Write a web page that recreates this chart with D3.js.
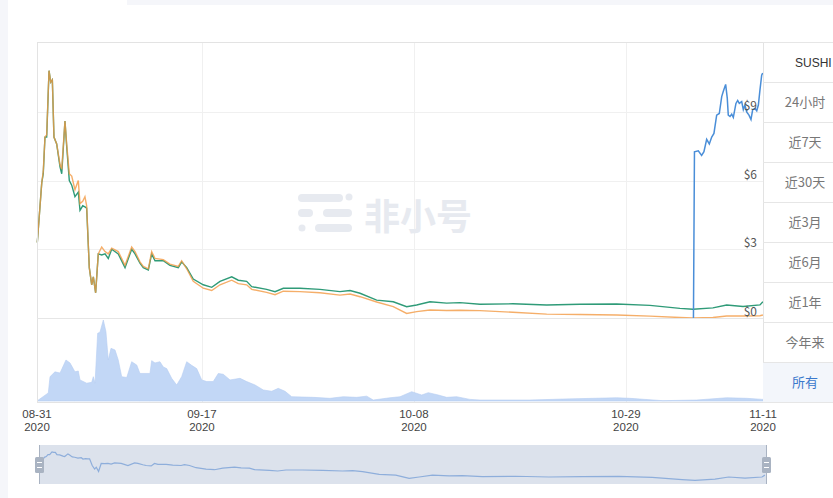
<!DOCTYPE html>
<html><head><meta charset="utf-8">
<script src="https://cdn.jsdelivr.net/npm/d3@7/dist/d3.min.js"></script>
<style>
html,body{margin:0;padding:0;background:#fff;}
svg{display:block;}
text{font-family:"Noto Sans CJK SC","Liberation Sans",sans-serif;}
text.lat{font-family:"Liberation Sans",Arial,sans-serif;}
</style></head>
<body><svg id="c" width="833" height="498"></svg>
<script>
// ---- data (day offsets are days after 2020-08-31 00:00) ----
const lineDays = [0.69,1.13,1.28,1.45,1.62,1.85,2.02,2.18,2.34,2.61,2.94,3.11,3.43,3.60,3.86,4.10,4.42,4.75,4.92,5.19,5.41,5.58,5.84,6.08,6.24,6.47,6.73,7.07,7.40,7.72,8.06,8.71,9.38,10.04,10.37,10.86,11.19,11.69,12.02,12.35,13.17,13.83,14.66,14.99,15.49,16.14,17.13,17.97,18.79,19.95,20.60,21.43,21.93,23.41,24.24,25.06,26.71,28.69,30.67,31.67,32.66,34.31,35.95,37.28,38.27,39.59,41.24,42.56,44.54,47.8,51.15,54.45,58.08,61.38,64.35,65.64,67.62,68.98,70.6,72.28,72.57];
const greenValues = [3.3,5.9,6.3,7.9,7.9,10.8,10.3,10.4,7.9,7.6,6.6,6.3,8.6,7.5,6.0,5.8,5.3,5.5,4.7,4.9,4.85,4.8,2.2,1.45,1.8,1.1,2.8,2.75,2.8,2.6,3.0,2.8,2.2,3.0,2.8,2.4,2.2,2.1,2.8,2.5,2.5,2.3,2.2,2.45,2.2,1.7,1.45,1.34,1.6,1.8,1.65,1.6,1.37,1.25,1.15,1.3,1.3,1.25,1.15,1.2,1.08,0.78,0.71,0.49,0.57,0.71,0.65,0.67,0.6,0.62,0.57,0.6,0.61,0.55,0.42,0.38,0.44,0.57,0.5,0.57,0.71];
const orangeValues = [3.3,5.9,6.4,7.9,8.0,10.8,10.3,10.4,7.9,7.6,6.7,6.5,8.6,7.6,6.3,6.2,5.6,6.0,5.0,5.1,5.3,4.9,2.2,1.45,1.8,1.1,2.8,3.1,2.9,2.8,3.05,2.9,2.3,3.1,2.9,2.45,2.25,2.15,2.9,2.6,2.55,2.35,2.25,2.5,2.15,1.6,1.3,1.2,1.45,1.65,1.5,1.45,1.25,1.12,1.02,1.17,1.15,1.1,1.0,1.05,0.93,0.7,0.5,0.2,0.28,0.35,0.33,0.34,0.32,0.25,0.17,0.15,0.13,0.08,0.02,0.0,0.02,0.09,0.09,0.1,0.13];
const blueDays = [65.69,65.79,66.17,66.5,66.73,67.0,67.26,67.5,67.72,67.99,68.25,68.49,68.65,68.88,69.04,69.14,69.31,69.48,69.64,69.9,70.07,70.23,70.47,70.63,70.79,70.96,71.19,71.39,71.56,71.79,71.96,72.12,72.28,72.45,72.55];
const blueValues = [0,7.26,7.3,7.1,7.26,7.8,7.6,7.9,8.06,8.86,8.93,9.67,9.9,10.2,9.6,8.86,8.8,8.9,8.76,9.37,9.5,9.37,9.45,9.1,9.3,9.0,8.86,8.67,9.1,9.15,9.05,9.3,9.96,10.6,10.7];
const volumeDays = [0.66,1.78,1.95,2.44,2.94,3.53,3.93,4.42,4.75,4.92,5.58,6.08,6.24,6.41,6.67,6.9,7.23,7.49,7.72,7.99,8.39,8.71,9.05,9.55,10.04,10.54,10.86,11.36,11.85,12.02,12.35,12.84,13.17,13.51,14.0,14.5,14.99,15.49,15.98,16.48,16.98,17.47,18.12,18.62,19.11,19.78,20.77,21.43,22.26,23.08,23.91,24.56,25.23,25.89,28.03,29.68,31.0,32.33,33.32,33.97,35.63,36.62,37.78,38.77,39.42,40.41,41.24,42.23,43.55,44.54,49.5,52.76,58.08,59.4,62.67,66.01,68.98,70.96,72.58];
const volumeValues = [0,10,30,36,34.5,50.6,47,36,37,26,22,23,30,22,83.6,85,100,85.5,50.6,65,63,50.6,30,29,48.5,44.4,34,34,34,49.8,47,48.5,42,40,28,19.8,30,48.5,44,40,26,24,24,34,33,26,28,24,19.8,13.6,12,15.6,12,5.3,4.5,3.3,5.3,4.5,6,1.2,4,5.3,11.5,7.4,10.3,7.4,4.5,5.3,2,1.2,1.2,2.4,4,3.3,0.4,1.2,4,3.3,2];
const yTicks = [0,3,6,9];
const xTickDays = [17,38,59];
const xTickLabels = ["09-17","10-08","10-29"];
const edgeLabels = ["08-31","11-11"];
const yearLabel = "2020";
const rangeButtons = ["24小时","近7天","近30天","近3月","近6月","近1年","今年来","所有"];
const headerLabel = "SUSHI";
const domainDays = [0.66,72.58];

const base = Date.UTC(2020,7,31);
const toDate = d => new Date(base + d*86400000);

const svg = d3.select("#c");
// page background pieces
svg.append("rect").attr("x",0).attr("y",0).attr("width",8).attr("height",498).attr("fill","#f5f6fa");
svg.append("rect").attr("x",127).attr("y",0).attr("width",706).attr("height",5).attr("fill","#f5f6fa");

const L=37,R=763,T=42,MB=318,VB=401,B=402;
const x = d3.scaleUtc().domain(domainDays.map(toDate)).range([L,R]);
const y = d3.scaleLinear().domain([0,12]).range([MB,MB-12*22.9]);
const yv = d3.scaleLinear().domain([0,100]).range([VB,320]);

// grid
const g = svg.append("g");
xTickDays.forEach(d=>{
  g.append("line").attr("x1",Math.round(x(toDate(d)))+0.5).attr("x2",Math.round(x(toDate(d)))+0.5)
   .attr("y1",T).attr("y2",B).attr("stroke","#f0f0f0");
});
yTicks.filter(v=>v>0).forEach(v=>{
  g.append("line").attr("x1",L).attr("x2",R).attr("y1",Math.round(y(v))+0.5).attr("y2",Math.round(y(v))+0.5)
   .attr("stroke","#f0f0f0");
});

// watermark
const wm = svg.append("g").attr("fill","#e7eaf0");
[[298,194,45,8],[298,209,15,8],[323,209,29,8],[315,224,37,8]].forEach(r=>{
  wm.append("rect").attr("x",r[0]).attr("y",r[1]).attr("width",r[2]).attr("height",r[3]).attr("rx",4);
});
wm.append("circle").attr("cx",349).attr("cy",197).attr("r",3.5);
wm.append("circle").attr("cx",302).attr("cy",228).attr("r",3.5);
wm.append("text").attr("x",364).attr("y",230).attr("font-size",36).attr("font-weight","bold").text("非小号");

// volume
svg.append("path").datum(volumeDays.map((d,i)=>[toDate(d),volumeValues[i]]))
  .attr("fill","#c2d7f6").attr("stroke","#b5cdf2").attr("stroke-width",0.6)
  .attr("d",d3.area().x(d=>x(d[0])).y0(VB).y1(d=>yv(d[1])));

// lines
const line = d3.line().x(d=>x(d[0])).y(d=>y(d[1]));
svg.append("path").datum(lineDays.map((d,i)=>[toDate(d),greenValues[i]]))
  .attr("fill","none").attr("stroke","#2f9b78").attr("stroke-width",1.4).attr("d",line);
svg.append("path").datum(lineDays.map((d,i)=>[toDate(d),orangeValues[i]]))
  .attr("fill","none").attr("stroke","#f29a43").attr("stroke-width",1.4).attr("stroke-opacity",0.8).attr("d",line);
svg.append("path").datum(blueDays.map((d,i)=>[toDate(d),blueValues[i]]))
  .attr("fill","none").attr("stroke","#4a8ed8").attr("stroke-width",1.5).attr("d",line);

// frame
svg.append("rect").attr("x",L+0.5).attr("y",T+0.5).attr("width",R-L).attr("height",B-T)
  .attr("fill","none").attr("stroke","#e3e3e3");
svg.append("line").attr("x1",L).attr("x2",R).attr("y1",MB+0.5).attr("y2",MB+0.5).attr("stroke","#e6e6e6");

// y labels
yTicks.forEach(v=>{
  svg.append("text").attr("x",757).attr("y",y(v)-2).attr("text-anchor","end")
    .attr("font-size",12).attr("fill","#555").text("$"+v);
});

// x labels (two-line: date / year)
const xl = svg.append("g").attr("font-size",11.5).attr("fill","#444").attr("text-anchor","middle");
const putLabel=(px,lab)=>{
  xl.append("text").attr("class","lat").attr("x",px).attr("y",418).text(lab);
  xl.append("text").attr("class","lat").attr("x",px).attr("y",431).text(yearLabel);
};
putLabel(x(toDate(domainDays[0])),edgeLabels[0]);
xTickDays.forEach((d,i)=>putLabel(x(toDate(d)),xTickLabels[i]));
putLabel(x(toDate(domainDays[1])),edgeLabels[1]);

// right buttons panel
const bp = svg.append("g");
bp.append("rect").attr("x",763).attr("y",362).attr("width",70).attr("height",40).attr("fill","#f3f6fb");
for(let i=0;i<=9;i++){
  bp.append("line").attr("x1",763).attr("x2",833).attr("y1",42+i*40+0.5).attr("y2",42+i*40+0.5).attr("stroke","#e6e6e6");
}
bp.append("text").attr("class","lat").attr("x",795).attr("y",67).attr("font-size",12).attr("fill","#333").text(headerLabel);
rangeButtons.forEach((b,i)=>{
  bp.append("text").attr("x",805).attr("y",42+40*(i+1)+25).attr("text-anchor","middle")
    .attr("font-size",13).attr("fill",i===rangeButtons.length-1?"#3a78cc":"#777").text(b);
});

// navigator
const NL=39,NR=766,NT=445,NB=484;
const xn = d3.scaleUtc().domain(domainDays.map(toDate)).range([NL+1,NR-1]);
const yn = d3.scaleLog().domain([0.25,24.5]).range([NB,NT]);
svg.append("rect").attr("x",NL).attr("y",NT).attr("width",NR-NL).attr("height",NB-NT).attr("fill","#dce2ec");
svg.append("path").datum(lineDays.map((d,i)=>[toDate(d),greenValues[i]]))
  .attr("fill","none").attr("stroke","#8eaedb").attr("stroke-width",1.2)
  .attr("d",d3.line().x(d=>xn(d[0])).y(d=>yn(d[1])));
[NL,NR].forEach(hx=>{
  svg.append("line").attr("x1",hx+0.5).attr("x2",hx+0.5).attr("y1",NT).attr("y2",NB).attr("stroke","#a9b3c2");
  svg.append("rect").attr("x",hx-4).attr("y",457).attr("width",9).attr("height",16).attr("rx",1.5)
    .attr("fill","#a9b3c2");
  [462,467].forEach(ly=>svg.append("line").attr("x1",hx-2).attr("x2",hx+3).attr("y1",ly+0.5).attr("y2",ly+0.5)
    .attr("stroke","#fff").attr("stroke-width",1));
});
</script></body></html>
